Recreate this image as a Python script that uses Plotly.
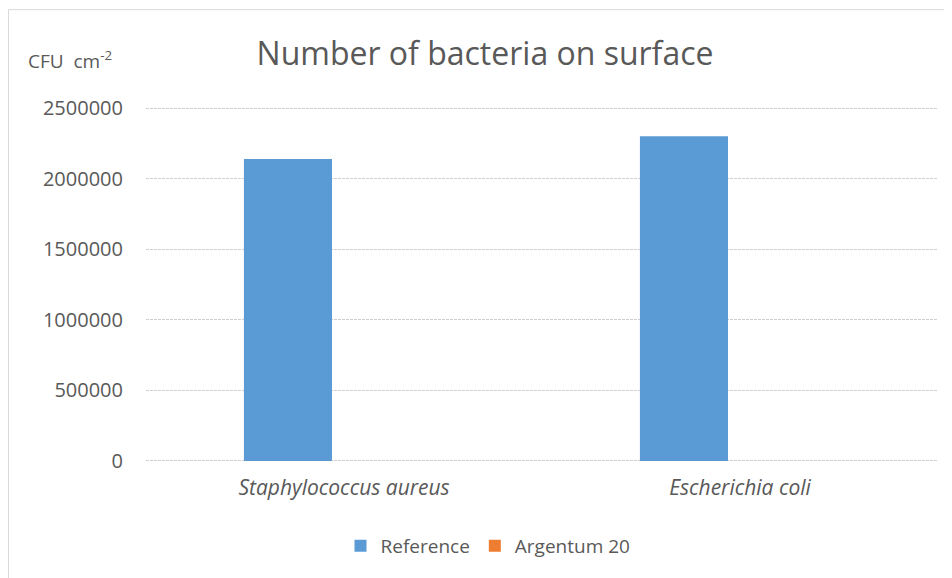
import plotly.graph_objects as go

categories = ["Staphylococcus aureus", "Escherichia coli"]
reference_vals = [2140000, 2300000]
argentum_vals = [0, 0]
y_ticks = [0, 500000, 1000000, 1500000, 2000000, 2500000]

font_fam = "Open Sans"
grey = "#595959"

fig = go.Figure()
fig.add_trace(go.Bar(x=categories, y=reference_vals, name="Reference",
                     marker=dict(color="#5B9BD5", line=dict(width=0))))
fig.add_trace(go.Bar(x=categories, y=argentum_vals, name="Argentum 20",
                     marker=dict(color="#ED7D31", line=dict(width=0))))

OFF = 8  # page body margin
W, H = 952 - OFF, 578 - OFF
EXT = 15000  # small range padding so the edge gridlines are drawn
ext_px = EXT * 353 / 2500000
# page-pixel plot area
PL, PR, PT, PB = 146, 938, 108 - ext_px, 461 + ext_px
L, R, T, B = PL - OFF, W - (PR - OFF), PT - OFF, H - (PB - OFF)
pw, ph = PR - PL, PB - PT

def px(x):
    return (x - PL) / pw

def py(y):
    return (PB - y) / ph

fig.update_layout(
    width=W, height=H,
    margin=dict(l=L, r=R, t=T, b=B),
    paper_bgcolor="white", plot_bgcolor="white",
    barmode="group", bargap=0.434, bargroupgap=0.214,
    font=dict(family=font_fam, color=grey, size=18),
    title=dict(text="Number of bacteria on surface", x=(485 - OFF) / W, xanchor="center",
               y=1 - (54 - OFF) / H, yanchor="middle", font=dict(size=32, color=grey)),
    showlegend=True,
    legend=dict(orientation="h", x=px(488), xanchor="center", y=py(546), yanchor="middle",
                font=dict(size=19, color=grey), traceorder="normal", itemwidth=30),
    xaxis=dict(showgrid=False, showline=False, ticks="", zeroline=False,
               tickfont=dict(size=21, color=grey, style="italic"), ticklabelstandoff=10),
    yaxis=dict(range=[-EXT, 2500000 + EXT], tickvals=y_ticks, ticktext=[str(v) for v in y_ticks],
               showgrid=True, gridcolor="#cfcfcf", griddash="3px,1px", gridwidth=1,
               zeroline=False, showline=False, ticks="", ticklabelstandoff=22,
               tickfont=dict(size=20, color=grey)),
    annotations=[dict(text="CFU  cm<sup>-2</sup>", xref="paper", yref="paper",
                      x=px(26), xanchor="left", y=py(60), yanchor="middle",
                      showarrow=False, font=dict(size=19, color=grey))],
    shapes=[dict(type="rect", xref="paper", yref="paper",
                 x0=px(8.5), x1=px(1000), y0=py(9.5), y1=py(640),
                 line=dict(color="#d9d9d9", width=1), layer="below")],
)

fig.write_html("out.html")
